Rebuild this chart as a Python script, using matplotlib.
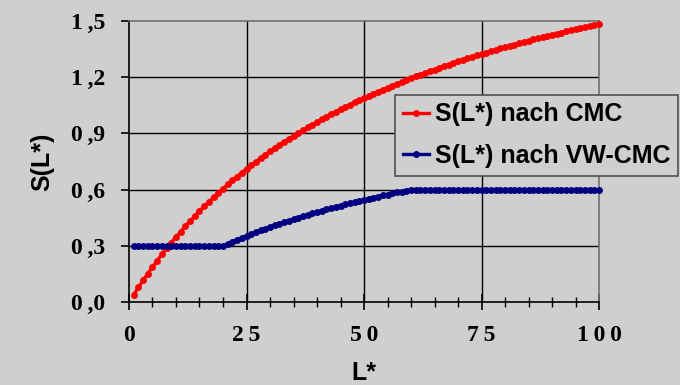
import matplotlib
matplotlib.use("Agg")
import matplotlib.pyplot as plt
from matplotlib.ticker import MultipleLocator, FixedLocator

# L* from 1 to 100
L_STAR = list(range(1, 101))

S_CMC = [
    0.04, 0.079, 0.117, 0.153, 0.188, 0.222, 0.255, 0.287, 0.318, 0.348,
    0.377, 0.406, 0.433, 0.46, 0.486, 0.511, 0.536, 0.56, 0.583, 0.606,
    0.628, 0.649, 0.67, 0.691, 0.711, 0.73, 0.749, 0.768, 0.786, 0.804,
    0.821, 0.838, 0.854, 0.871, 0.886, 0.902, 0.917, 0.932, 0.947, 0.961,
    0.975, 0.988, 1.002, 1.015, 1.028, 1.04, 1.053, 1.065, 1.077, 1.088,
    1.1, 1.111, 1.122, 1.133, 1.144, 1.154, 1.164, 1.174, 1.184, 1.194,
    1.204, 1.213, 1.222, 1.231, 1.24, 1.249, 1.258, 1.266, 1.275, 1.283,
    1.291, 1.299, 1.307, 1.315, 1.322, 1.33, 1.337, 1.345, 1.352, 1.359,
    1.366, 1.373, 1.38, 1.386, 1.393, 1.4, 1.406, 1.412, 1.419, 1.425,
    1.431, 1.437, 1.443, 1.448, 1.454, 1.46, 1.466, 1.471, 1.477, 1.482,
]

S_VWCMC = [
    0.3, 0.3, 0.3, 0.3, 0.3, 0.3, 0.3, 0.3, 0.3, 0.3,
    0.3, 0.3, 0.3, 0.3, 0.3, 0.3, 0.3, 0.3, 0.3, 0.3,
    0.311, 0.322, 0.333, 0.343, 0.354, 0.364, 0.373, 0.383, 0.392, 0.401,
    0.41, 0.418, 0.427, 0.435, 0.443, 0.451, 0.459, 0.466, 0.474, 0.481,
    0.488, 0.495, 0.502, 0.509, 0.515, 0.522, 0.528, 0.534, 0.54, 0.546,
    0.552, 0.558, 0.563, 0.569, 0.574, 0.58, 0.585, 0.59, 0.595, 0.6,
    0.6, 0.6, 0.6, 0.6, 0.6, 0.6, 0.6, 0.6, 0.6, 0.6,
    0.6, 0.6, 0.6, 0.6, 0.6, 0.6, 0.6, 0.6, 0.6, 0.6,
    0.6, 0.6, 0.6, 0.6, 0.6, 0.6, 0.6, 0.6, 0.6, 0.6,
    0.6, 0.6, 0.6, 0.6, 0.6, 0.6, 0.6, 0.6, 0.6, 0.6,
]

X_TICKS = [0, 25, 50, 75, 100]
# thin spaces mimic the wide letter spacing of the original
X_TICK_LABELS = ["0", "2\u20095", "5\u20090", "7\u20095", "1\u20090\u20090"]
Y_TICKS = [0.0, 0.3, 0.6, 0.9, 1.2, 1.5]
Y_TICK_LABELS = ["0\u2009,0", "0\u2009,3", "0\u2009,6",
                 "0\u2009,9", "1\u2009,2", "1\u2009,5"]
SERIES_LABELS = ["S(L*) nach CMC", "S(L*) nach VW-CMC"]

BG = "#cfcfcf"
GRID_DARK = "#000000"
GRID_EDGE = "#707070"
SERIF = ["Liberation Serif", "DejaVu Serif"]
SANS = ["Liberation Sans", "DejaVu Sans"]


def main() -> None:
    fig = plt.figure(figsize=(6.8, 3.85), dpi=100, facecolor=BG)
    ax = fig.add_axes([0.1897, 0.2148, 0.6912, 0.7314])
    ax.set_facecolor(BG)

    ax.set_xlim(0, 100)
    ax.set_ylim(0, 1.5)

    # grid: black inside, grey at the outer edge
    for x in X_TICKS[1:-1]:
        ax.axvline(x, color=GRID_DARK, lw=1.0, zorder=1)
    for y in Y_TICKS[1:-1]:
        ax.axhline(y, color=GRID_DARK, lw=1.0, zorder=1)

    ax.plot(L_STAR, S_CMC, color="#ff0000", lw=2.4, marker="o",
            markersize=5.0, markeredgewidth=0, label=SERIES_LABELS[0],
            zorder=3, clip_on=False)
    ax.plot(L_STAR, S_VWCMC, color="#000080", lw=2.4, marker="o",
            markersize=5.0, markeredgewidth=0, label=SERIES_LABELS[1],
            zorder=3, clip_on=False)

    for side in ("top", "right"):
        ax.spines[side].set_color(GRID_EDGE)
        ax.spines[side].set_linewidth(1.2)
    for side in ("left", "bottom"):
        ax.spines[side].set_color("black")
        ax.spines[side].set_linewidth(1.2)

    ax.xaxis.set_major_locator(FixedLocator(X_TICKS))
    ax.xaxis.set_minor_locator(MultipleLocator(5))
    ax.set_yticks(Y_TICKS)
    ax.set_yticklabels(Y_TICK_LABELS)
    ax.set_xticklabels(X_TICK_LABELS)

    ax.tick_params(axis="x", which="major", direction="inout", length=11,
                   width=1.2, pad=11, labelsize=17)
    ax.tick_params(axis="x", which="minor", direction="inout", length=6.5,
                   width=1.0)
    ax.tick_params(axis="y", which="major", direction="out", length=6,
                   width=1.2, pad=11, labelsize=17)
    for lab in ax.get_xticklabels() + ax.get_yticklabels():
        lab.set_family(SERIF)
        lab.set_fontweight("bold")

    ax.set_xlabel("L*", fontsize=18, fontweight="bold", family=SANS,
                  labelpad=10.5)
    ax.set_ylabel("S(L*)", fontsize=18, fontweight="bold", family=SANS,
                  labelpad=12)

    leg = fig.legend(
        loc="upper left", bbox_to_anchor=(395 / 680, 1 - 95 / 385),
        frameon=True, fancybox=False, framealpha=1.0,
        facecolor=BG, edgecolor="#505050",
        prop={"family": SANS, "weight": "bold", "size": 18},
        handlelength=1.05, handletextpad=0.25, labelspacing=0.7,
        borderpad=0.3, borderaxespad=0,
    )
    leg.get_frame().set_linewidth(1.2)

    fig.savefig("out.png", dpi=100, facecolor=BG)


if __name__ == "__main__":
    main()
